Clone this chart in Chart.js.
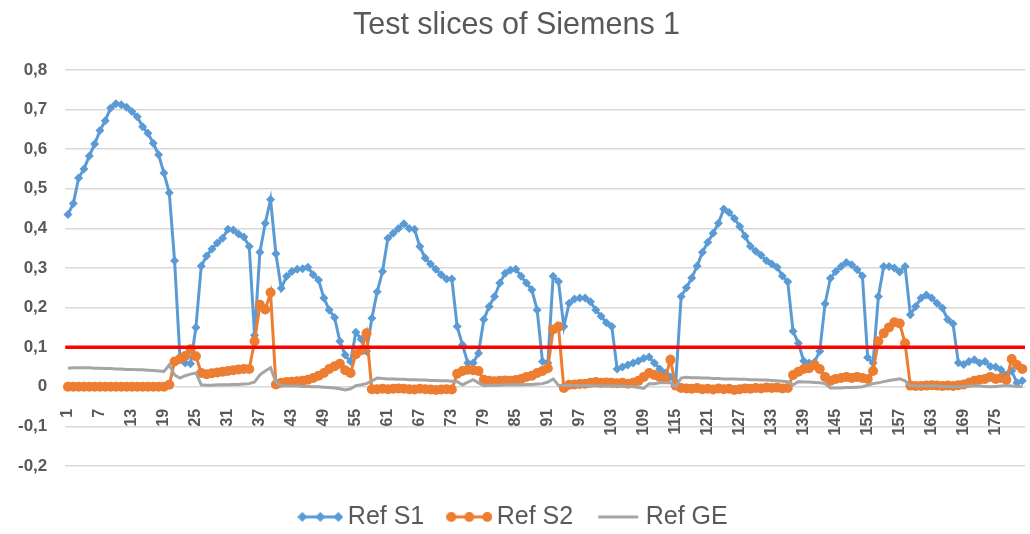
<!DOCTYPE html>
<html>
<head>
<meta charset="utf-8">
<script src="https://cdn.jsdelivr.net/npm/chart.js@4"></script>
<style>
html, body { margin: 0; padding: 0; background: #fff; overflow: hidden; }
</style>
</head>
<body>
<canvas id="grafico" width="1030" height="534"></canvas>
<script>
const titulo = "Test slices of Siemens 1";
const fatias = Array.from({ length: 180 }, (_, i) => String(i + 1));
const limite = 0.1;

const refS1 = [
  0.435, 0.463, 0.527, 0.55, 0.583, 0.613, 0.647, 0.672, 0.704, 0.715,
  0.712, 0.706, 0.695, 0.682, 0.657, 0.64, 0.615, 0.586, 0.54, 0.49,
  0.318, 0.075, 0.06, 0.058, 0.15, 0.305, 0.33, 0.348, 0.363, 0.375,
  0.398, 0.396, 0.386, 0.378, 0.354, 0.13, 0.34, 0.413, 0.473, 0.336,
  0.249, 0.279, 0.291, 0.297, 0.298, 0.302, 0.283, 0.27, 0.224, 0.194,
  0.175, 0.115, 0.08, 0.064, 0.138, 0.12, 0.09, 0.173, 0.24, 0.291,
  0.375, 0.388, 0.4, 0.412, 0.4, 0.398, 0.354, 0.325, 0.31, 0.297,
  0.283, 0.272, 0.272, 0.152, 0.106, 0.06, 0.06, 0.085, 0.17, 0.203,
  0.228, 0.262, 0.287, 0.295, 0.297, 0.279, 0.262, 0.245, 0.194, 0.064,
  0.06, 0.279, 0.266, 0.152, 0.211, 0.222, 0.224, 0.224, 0.215, 0.194,
  0.178, 0.162, 0.152, 0.045, 0.05, 0.055, 0.06, 0.065, 0.072, 0.075,
  0.06, 0.045, 0.035, 0.025, 0.012, 0.228, 0.25, 0.275, 0.305, 0.34,
  0.365, 0.388, 0.413, 0.449, 0.44, 0.425, 0.405, 0.38, 0.355, 0.342,
  0.332, 0.318, 0.31, 0.302, 0.28, 0.265, 0.14, 0.11, 0.065, 0.06,
  0.062, 0.09, 0.21, 0.274, 0.291, 0.304, 0.314, 0.308, 0.296, 0.28,
  0.074, 0.06, 0.228, 0.304, 0.304, 0.3, 0.29, 0.304, 0.182, 0.203,
  0.224, 0.232, 0.224, 0.211, 0.199, 0.17, 0.159, 0.061, 0.056, 0.064,
  0.068, 0.06, 0.064, 0.051, 0.05, 0.043, 0.03, 0.04, 0.01, 0.015
];

const refS2 = [
  0, 0, 0, 0, 0, 0, 0, 0, 0, 0,
  0, 0, 0, 0, 0, 0, 0, 0, 0, 0.005,
  0.064, 0.07, 0.078, 0.095, 0.077, 0.035, 0.032, 0.034, 0.036, 0.038,
  0.04, 0.042, 0.044, 0.045, 0.045, 0.115, 0.207, 0.195, 0.238, 0.006,
  0.01, 0.012, 0.013, 0.014, 0.015, 0.018, 0.022, 0.028, 0.035, 0.045,
  0.052, 0.058, 0.042, 0.035, 0.082, 0.092, 0.135, -0.006, -0.006, -0.005,
  -0.006, -0.005, -0.004, -0.005, -0.006, -0.007, -0.005, -0.006, -0.007, -0.008,
  -0.007, -0.006, -0.007, 0.033, 0.04, 0.043, 0.042, 0.04, 0.018, 0.015,
  0.014, 0.015, 0.016, 0.015, 0.017, 0.02, 0.025, 0.028, 0.035, 0.04,
  0.047, 0.145, 0.152, -0.003, 0.005, 0.006, 0.007, 0.008, 0.01, 0.012,
  0.01, 0.011, 0.01, 0.009, 0.01, 0.008, 0.01, 0.015, 0.025, 0.035,
  0.03, 0.025, 0.02, 0.068, 0.003, -0.003, -0.004, -0.005, -0.003, -0.006,
  -0.005, -0.007, -0.004, -0.006, -0.005, -0.008, -0.006, -0.004, -0.005, -0.003,
  -0.004, -0.002, -0.003, -0.002, -0.004, -0.003, 0.03, 0.038, 0.045, 0.047,
  0.055, 0.045, 0.025, 0.015, 0.02, 0.022, 0.025, 0.022, 0.025, 0.022,
  0.02, 0.04, 0.115, 0.135, 0.15, 0.163, 0.16, 0.11, 0.003, 0.002,
  0.002, 0.003, 0.004, 0.003, 0.002, 0.003, 0.002, 0.004, 0.006, 0.01,
  0.015, 0.018, 0.02, 0.025, 0.02, 0.022, 0.018, 0.07, 0.055, 0.045
];

const refGE = [
  0.047, 0.048, 0.048, 0.048, 0.048, 0.047, 0.047, 0.046, 0.046, 0.045,
  0.045, 0.044, 0.044, 0.043, 0.043, 0.042, 0.041, 0.04, 0.039, 0.055,
  0.03, 0.022, 0.028, 0.032, 0.035, 0.005, 0.004, 0.004, 0.005, 0.005,
  0.005, 0.006, 0.006, 0.007, 0.008, 0.012, 0.03, 0.04, 0.048, 0.012,
  0.003, 0.002, 0.002, 0.002, 0.001, 0.001, 0, 0, -0.001, -0.002,
  -0.003, -0.005, -0.008, -0.005, 0.003, 0.005, 0.008, 0.015, 0.022, 0.021,
  0.02, 0.02, 0.019, 0.019, 0.018, 0.018, 0.017, 0.017, 0.016, 0.016,
  0.015, 0.015, 0.014, 0.013, 0.005, 0.012, 0.018, 0.01, 0.003, 0.004,
  0.004, 0.004, 0.005, 0.005, 0.005, 0.005, 0.006, 0.006, 0.007, 0.008,
  0.012, 0.02, 0.004, 0.003, 0.003, 0.003, 0.003, 0.003, 0.003, 0.002,
  0.002, 0.002, 0.002, 0.002, 0.002, 0.001, 0, -0.002, -0.004, 0.008,
  0.008, 0.01, 0.01, 0.01, 0, 0.022, 0.024, 0.023, 0.023, 0.022,
  0.022, 0.021, 0.021, 0.02, 0.02, 0.02, 0.019, 0.019, 0.018, 0.018,
  0.017, 0.017, 0.016, 0.015, 0.014, 0.013, 0.005, 0.013, 0.012, 0.012,
  0.011, 0.01, 0.008, -0.003, -0.003, -0.003, -0.002, -0.002, -0.001, 0,
  0.004, 0.008, 0.01, 0.013, 0.016, 0.018, 0.02, 0.015, 0.003, 0.002,
  0.002, 0.002, 0.002, 0.002, 0.001, 0.001, 0, 0, 0.001, 0.002,
  0.002, 0.002, 0.001, 0, 0.001, 0.002, 0.003, 0.002, 0.001, 0.001
];

const azul = "#5b9bd5";
const laranja = "#ed7d31";
const cinza = "#a5a5a5";
const textoCor = "#595959";

// little line+marker pictures for the legend, like excel does
function icone(cor, marcador) {
  let c = document.createElement("canvas");
  c.width = 46;
  c.height = 14;
  let g = c.getContext("2d");
  g.strokeStyle = cor;
  g.fillStyle = cor;
  g.lineWidth = 3;
  g.beginPath();
  g.moveTo(3, 7);
  g.lineTo(43, 7);
  g.stroke();
  [5, 23, 41].forEach(x => {
    if (marcador === "losango") {
      g.beginPath();
      g.moveTo(x, 2); g.lineTo(x + 5, 7); g.lineTo(x, 12); g.lineTo(x - 5, 7);
      g.closePath();
      g.fill();
    } else if (marcador === "circulo") {
      g.beginPath();
      g.arc(x, 7, 5, 0, Math.PI * 2);
      g.fill();
    }
  });
  return c;
}

const linhaLimite = {
  id: "linhaLimite",
  afterDatasetsDraw(chart) {
    let ctx = chart.ctx;
    let area = chart.chartArea;
    let y = chart.scales.y.getPixelForValue(limite);
    ctx.save();
    ctx.strokeStyle = "#ff0000";
    ctx.lineWidth = 3.5;
    ctx.beginPath();
    ctx.moveTo(area.left, y);
    ctx.lineTo(area.right, y);
    ctx.stroke();
    ctx.restore();
  }
};

const icones = [icone(azul, "losango"), icone(laranja, "circulo"), icone(cinza, "")];

new Chart(document.getElementById("grafico"), {
  type: "line",
  data: {
    labels: fatias,
    datasets: [
      {
        label: "Ref S1",
        data: refS1,
        borderColor: azul,
        backgroundColor: azul,
        borderWidth: 3,
        pointStyle: "rectRot",
        pointRadius: 4.5,
        pointBorderWidth: 0,
        order: 3
      },
      {
        label: "Ref S2",
        data: refS2,
        borderColor: laranja,
        backgroundColor: laranja,
        borderWidth: 3,
        pointStyle: "circle",
        pointRadius: 5,
        pointBorderWidth: 0,
        order: 2
      },
      {
        label: "Ref GE",
        data: refGE,
        borderColor: cinza,
        backgroundColor: cinza,
        borderWidth: 3,
        pointRadius: 0,
        order: 1
      }
    ]
  },
  options: {
    responsive: false,
    animation: false,
    layout: { padding: { top: 0, left: 0, right: -3, bottom: -5.4 } },
    plugins: {
      title: {
        display: true,
        text: titulo,
        color: textoCor,
        font: { family: "Liberation Sans", size: 30.5, weight: "normal" },
        padding: { top: 7, bottom: 26.4 }
      },
      legend: {
        position: "bottom",
        title: { display: true, text: "", font: { size: 7 }, padding: 0 },
        labels: {
          color: textoCor,
          font: { family: "Liberation Sans", size: 25 },
          usePointStyle: true,
          pointStyleWidth: 30,
          boxHeight: 14,
          padding: 30,
          sort: (a, b) => a.datasetIndex - b.datasetIndex,
          generateLabels: chart => chart.data.datasets.map((ds, i) => ({
            text: ds.label,
            pointStyle: icones[i],
            fillStyle: ds.borderColor,
            strokeStyle: ds.borderColor,
            fontColor: textoCor,
            lineWidth: 0,
            hidden: false,
            datasetIndex: i
          }))
        }
      },
      tooltip: { enabled: false }
    },
    scales: {
      x: {
        position: { y: 0 },
        offset: true,
        grid: { display: false },
        border: { display: false },
        afterFit: s => { s.paddingLeft = 0; s.paddingRight = 0; },
        ticks: {
          autoSkip: false,
          maxRotation: 90,
          minRotation: 90,
          padding: 14,
          color: textoCor,
          font: { family: "Liberation Sans", size: 16, weight: "bold" },
          callback: function (v, i) {
            return i % 6 === 0 ? this.getLabelForValue(v) : "";
          }
        }
      },
      y: {
        min: -0.2,
        max: 0.8,
        border: { display: false },
        grid: { color: "#d9d9d9", lineWidth: 1.5, drawTicks: false },
        ticks: {
          stepSize: 0.1,
          padding: 18,
          color: textoCor,
          font: { family: "Liberation Sans", size: 17, weight: "bold" },
          callback: v => {
            let r = Math.round(v * 10) / 10;
            return r === 0 ? "0" : r.toFixed(1).replace(".", ",");
          }
        }
      }
    }
  },
  plugins: [linhaLimite]
});
</script>
</body>
</html>
